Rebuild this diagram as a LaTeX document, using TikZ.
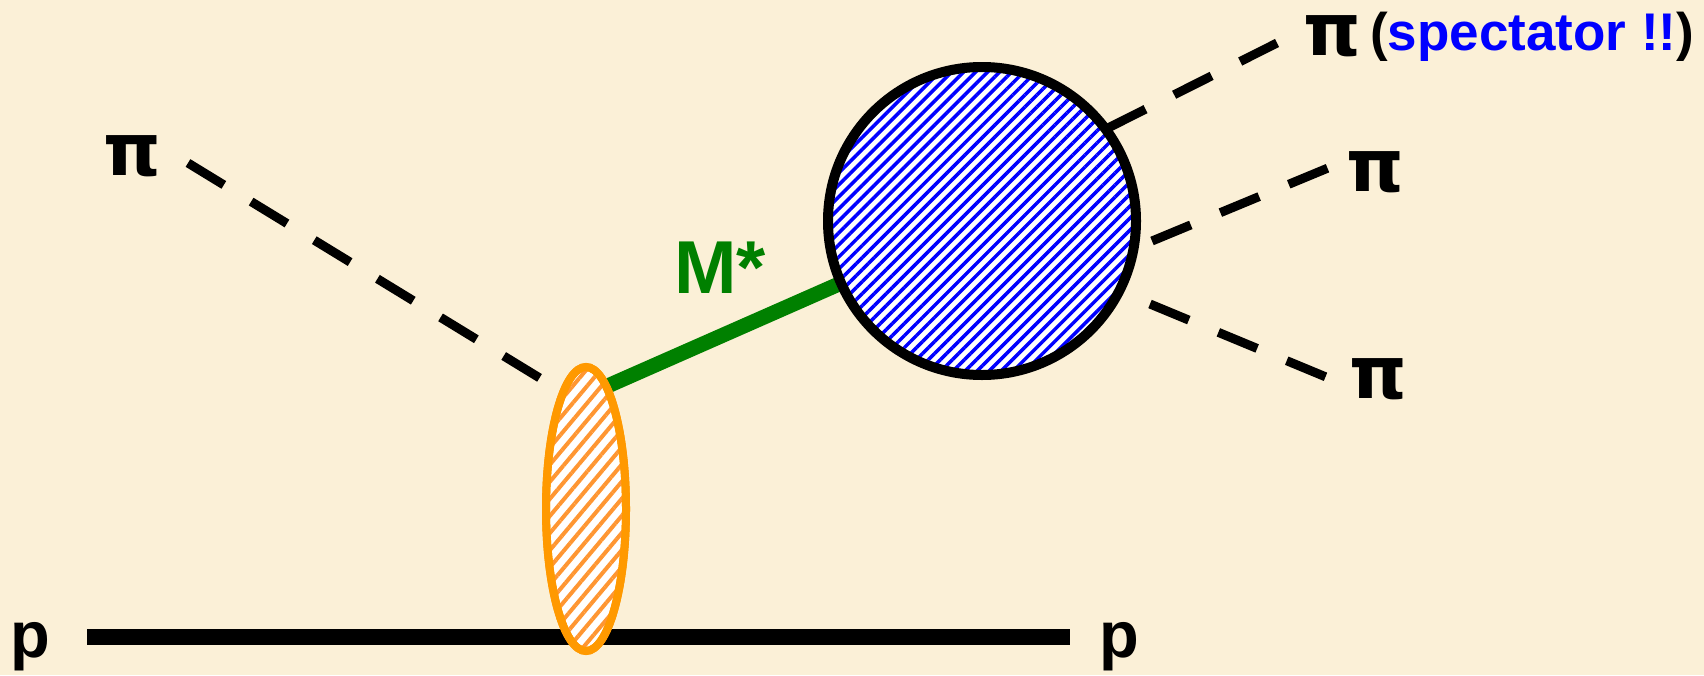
\documentclass[tikz,border=0pt]{standalone}
\usepackage{fontspec}
\setmainfont{Liberation Sans}
\newfontfamily\pifont{DejaVu Sans}
\usetikzlibrary{patterns.meta,shapes.geometric}
\definecolor{bgc}{RGB}{251,240,215}
\definecolor{gluon}{RGB}{0,128,0}
\definecolor{orng}{RGB}{255,153,0}
\definecolor{orhatch}{RGB}{255,150,50}
\begin{document}
\begin{tikzpicture}[x=1pt,y=-1pt,
  pion/.style={line width=9pt,dash pattern=on 42pt off 32pt},
  lbl/.style={inner sep=0pt,anchor=base west,font=\bfseries\fontsize{65}{70}\selectfont},
  pilbl/.style={inner sep=0pt,anchor=base west,text height=40pt,font=\pifont\bfseries\fontsize{73}{80}\selectfont}]
\fill[bgc] (0,0) rectangle (1704,675);
\useasboundingbox (0,0) rectangle (1704,675);
% coordinates
\coordinate (pl) at (87,637);
\coordinate (pr) at (1070,637);
\coordinate (pin1) at (188,163);
\coordinate (pin2) at (543,380);
\coordinate (mst) at (603,388);
\coordinate (t1) at (1108,128);
\coordinate (t2) at (1277,43);
\coordinate (m1) at (1152,241);
\coordinate (m2) at (1328,168);
\coordinate (b1) at (1150,304);
\coordinate (b2) at (1326,377);
% proton line
\draw[line width=16pt] (pl) -- (pr);
% pions
\draw[pion] (pin1) -- (pin2);
\draw[pion] (t1) -- (t2);
\draw[pion] (m1) -- (m2);
\draw[pion] (b1) -- (b2);
% blob node
\path (982,221) node[circle,minimum size=308pt,inner sep=0pt] (blob) {};
\draw[gluon,line width=15pt] (mst) -- (blob.center);
% vertex ellipse
\node[ellipse,minimum width=80pt,minimum height=284pt,inner sep=0pt,
  draw=orng,line width=8pt,fill=white,
  postaction={pattern={Lines[angle=50,distance=11pt,line width=4pt]},pattern color=orhatch}]
  (vertex) at (586,509) {};
\draw[orng,line width=8pt] (vertex.center) ellipse[x radius=40pt,y radius=142pt];
% blob
\fill[white] (blob.center) circle[radius=154pt];
\fill[pattern={Lines[angle=45,distance=8.5pt,line width=3.5pt]},pattern color=blue] (blob.center) circle[radius=154pt];
\draw[line width=10pt] (blob.center) circle[radius=154pt];
% labels
\node[pilbl] (lpi) at (103,175) {π};
\node[lbl] (lp) at (10,657) {p};
\node[lbl] (rp) at (1099,657) {p};
\node[inner sep=0pt,anchor=base west,text=gluon,font=\bfseries\fontsize{75}{80}\selectfont] (mstar) at (674,293) {M*};
\node[pilbl] (tpi) at (1303,55) {π};
\node[inner sep=0pt,anchor=base west,font=\bfseries\fontsize{53}{60}\selectfont] (spec) at (1370,50) {(\textcolor{blue}{spectator !!})};
\node[pilbl] (mpi) at (1346,191) {π};
\node[pilbl] (bpi) at (1349,398) {π};
\end{tikzpicture}
\end{document}
